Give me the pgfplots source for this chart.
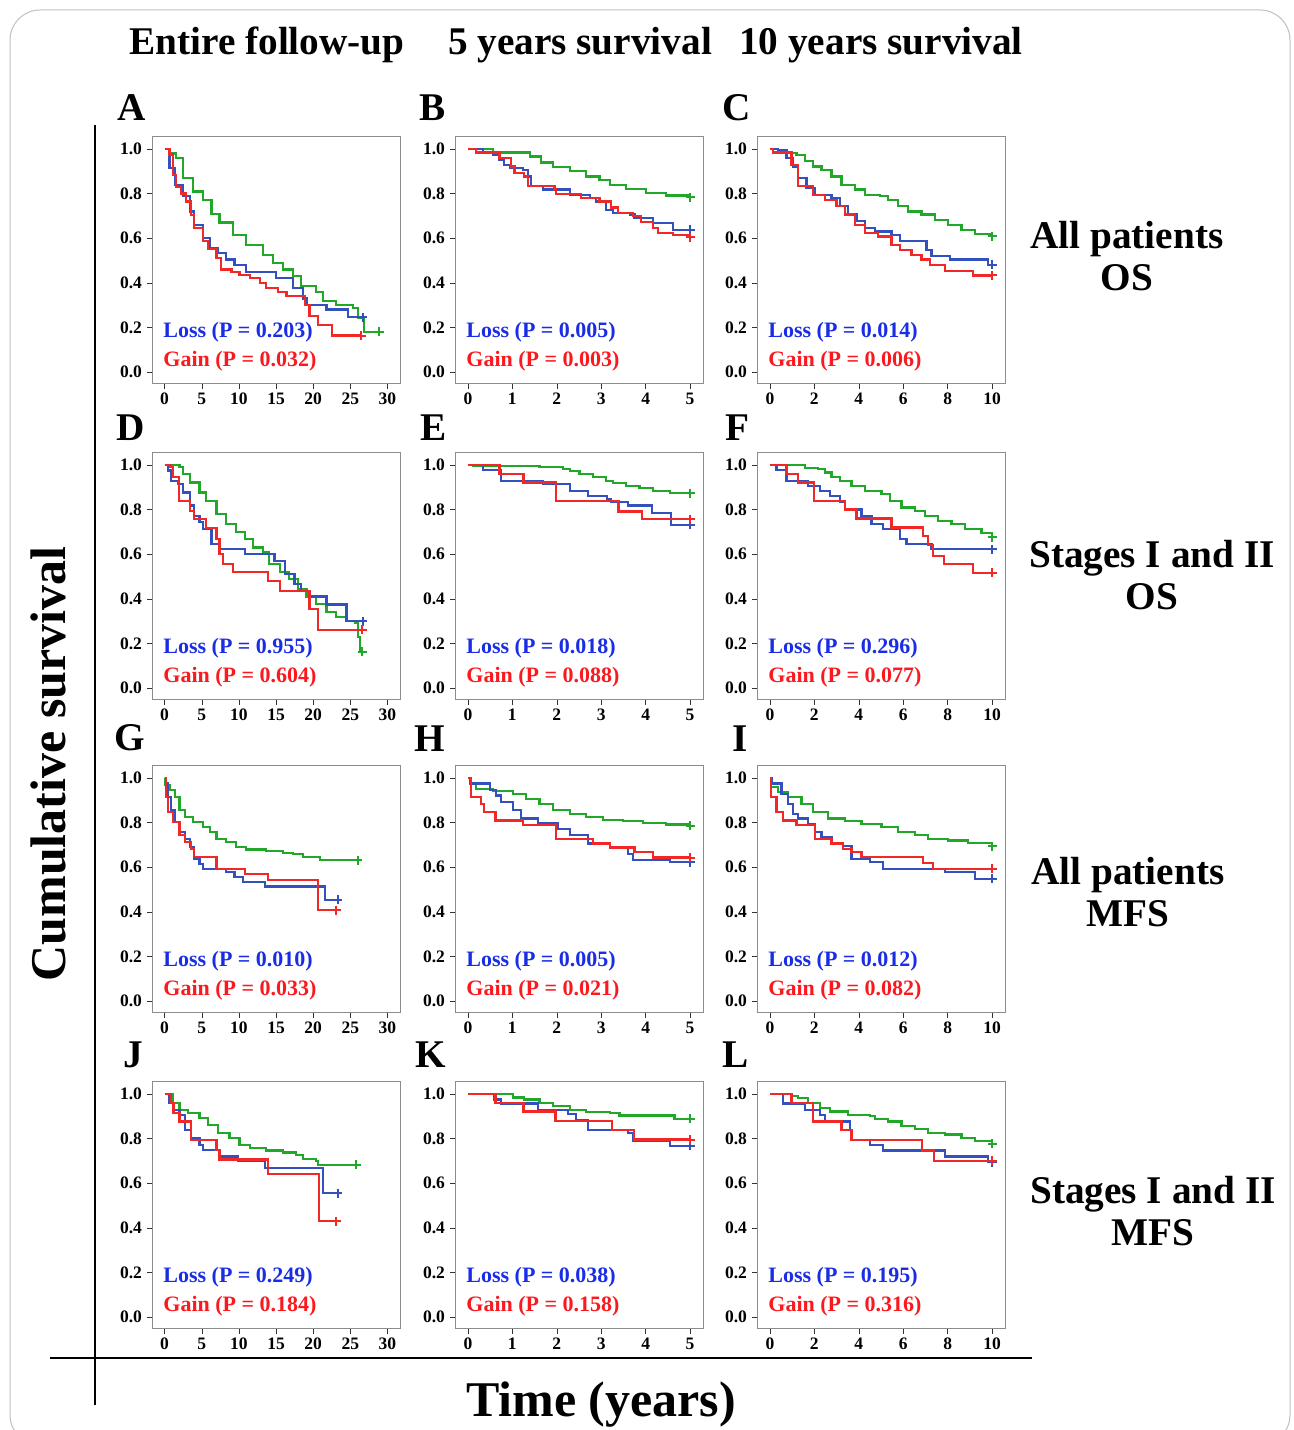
\documentclass[border=0pt]{standalone}
\usepackage{pgfplots}
\pgfplotsset{compat=1.18}
\usepackage{fontspec}
\setmainfont{Liberation Serif}

\definecolor{kmgreen}{RGB}{34,168,40}
\definecolor{kmblue}{RGB}{50,80,190}
\definecolor{kmred}{RGB}{240,40,40}
\definecolor{txblue}{RGB}{25,45,230}
\definecolor{txred}{RGB}{250,25,30}

\pgfplotsset{
  km/.style={scale only axis, width=99.2pt, height=98.8pt, anchor=north west,
    ymin=-0.054, ymax=1.054, ytick={0,0.2,0.4,0.6,0.8,1},
    axis line style={black!45}, tick style={black!80}, tick align=outside,
    xtick pos=left, ytick pos=left, major tick length=2pt,
    /pgf/number format/assume math mode=true,
    y tick label style={/pgf/number format/fixed, /pgf/number format/fixed zerofill, /pgf/number format/precision=1},
    tick label style={font=\bfseries\fontsize{7}{8}\selectfont},
    yticklabel style={xshift=1.5pt}, xticklabel style={yshift=1.8pt}},
  c1/.style={xmin=-1.7, xmax=31.7, xtick={0,5,10,15,20,25,30}},
  c2/.style={xmin=-0.29, xmax=5.29, xtick={0,1,2,3,4,5}},
  c3/.style={xmin=-0.58, xmax=10.58, xtick={0,2,4,6,8,10}},
  gl/.style={const plot, kmgreen, line width=0.9pt, no marks},
  bl/.style={const plot, kmblue, line width=0.9pt, no marks},
  rl/.style={const plot, kmred, line width=0.9pt, no marks},
  ge/.style={only marks, mark=+, kmgreen, mark size=1.8pt, line width=0.8pt},
  be/.style={only marks, mark=+, kmblue, mark size=1.8pt, line width=0.8pt},
  re/.style={only marks, mark=+, kmred, mark size=1.8pt, line width=0.8pt},
}
\newcommand{\pv}[2]{%
  \node[anchor=west, text=txblue, font=\bfseries\fontsize{8.8}{10}\selectfont, inner sep=0pt] at (rel axis cs:0.044,0.208) {Loss (P = #1)};
  \node[anchor=west, text=txred, font=\bfseries\fontsize{8.8}{10}\selectfont, inner sep=0pt] at (rel axis cs:0.044,0.093) {Gain (P = #2)};}

\begin{document}
\begin{tikzpicture}
\useasboundingbox (0,0) rectangle (517.2pt,-572pt);

% ---------- row 1: all patients OS
\begin{axis}[km, c1, at={(152*0.4pt,-137*0.4pt)}]
\addplot[gl] coordinates {(0,1) (0.7,0.98) (1.57,0.96) (2.47,0.87) (3.8,0.81) (5.2,0.77) (6.3,0.71) (7.4,0.67) (9.2,0.615) (11.0,0.57) (13.2,0.526) (14.6,0.49) (15.9,0.46) (17.3,0.43) (18.4,0.384) (20.4,0.36) (21.3,0.317) (23.1,0.30) (25.4,0.287) (26.0,0.242) (26.9,0.18) (28.9,0.18)};
\addplot[bl] coordinates {(0,1) (0.67,0.915) (1.35,0.84) (2.47,0.79) (3.4,0.72) (4.0,0.66) (5.2,0.60) (6.1,0.556) (7.2,0.534) (8.3,0.504) (9.4,0.48) (11.0,0.45) (15.0,0.42) (17.3,0.377) (18.6,0.33) (19.1,0.30) (21.8,0.28) (24.7,0.245) (26.7,0.245)};
\addplot[rl] coordinates {(0,1) (0.67,0.975) (1.1,0.885) (1.5,0.83) (2.2,0.80) (2.9,0.765) (3.6,0.705) (4.0,0.646) (5.2,0.586) (5.8,0.55) (7.0,0.51) (7.6,0.46) (9.0,0.45) (10.1,0.436) (11.5,0.42) (12.8,0.40) (13.7,0.377) (15.3,0.36) (16.4,0.34) (18.9,0.30) (19.5,0.25) (20.7,0.21) (22.5,0.163) (26.5,0.163)};
\addplot[ge] coordinates {(28.9,0.18)};
\addplot[be] coordinates {(26.7,0.245)};
\addplot[re] coordinates {(26.5,0.163)};
\pv{0.203}{0.032}
\end{axis}

\begin{axis}[km, c2, at={(455*0.4pt,-137*0.4pt)}]
\addplot[gl] coordinates {(0,1) (0.56,0.985) (1.39,0.967) (1.65,0.94) (1.91,0.92) (2.29,0.90) (2.66,0.877) (2.96,0.862) (3.19,0.84) (3.56,0.822) (4.01,0.803) (4.46,0.792) (5.0,0.783)};
\addplot[bl] coordinates {(0,1) (0.34,0.985) (0.56,0.975) (0.71,0.952) (0.82,0.93) (0.94,0.915) (1.24,0.907) (1.35,0.877) (1.42,0.833) (1.69,0.818) (2.29,0.795) (2.74,0.78) (2.89,0.765) (3.11,0.728) (3.26,0.713) (3.64,0.706) (3.75,0.69) (4.16,0.668) (4.61,0.638) (5.0,0.638)};
\addplot[rl] coordinates {(0,1) (0.19,0.985) (0.71,0.96) (0.97,0.922) (1.05,0.892) (1.27,0.877) (1.35,0.833) (1.95,0.818) (1.99,0.798) (2.55,0.78) (2.96,0.765) (3.22,0.738) (3.37,0.713) (3.71,0.698) (3.9,0.672) (4.16,0.646) (4.27,0.623) (4.61,0.616) (4.95,0.604) (5.0,0.604)};
\addplot[ge] coordinates {(5.0,0.783)};
\addplot[be] coordinates {(5.0,0.638)};
\addplot[re] coordinates {(5.0,0.604)};
\pv{0.005}{0.003}
\end{axis}

\begin{axis}[km, c3, at={(757*0.4pt,-137*0.4pt)}]
\addplot[gl] coordinates {(0,1) (0.37,0.997) (0.75,0.982) (1.2,0.972) (1.57,0.945) (1.95,0.922) (2.32,0.907) (2.77,0.877) (3.22,0.84) (3.82,0.818) (4.27,0.795) (4.95,0.788) (5.32,0.773) (5.77,0.743) (6.22,0.72) (6.82,0.706) (7.42,0.683) (8.02,0.66) (8.62,0.638) (9.22,0.62) (10,0.608)};
\addplot[bl] coordinates {(0,1) (0.37,0.997) (0.75,0.96) (1.05,0.922) (1.27,0.87) (1.65,0.825) (2.02,0.795) (2.77,0.78) (3.15,0.743) (3.52,0.706) (3.9,0.676) (4.27,0.646) (4.72,0.63) (5.47,0.616) (5.85,0.586) (7.05,0.548) (7.27,0.519) (8.1,0.504) (9.82,0.481) (10,0.481)};
\addplot[rl] coordinates {(0,1) (0.15,0.985) (0.97,0.93) (1.27,0.833) (1.95,0.795) (2.47,0.773) (3.0,0.743) (3.37,0.706) (3.82,0.66) (4.27,0.623) (4.87,0.608) (5.47,0.571) (5.85,0.548) (6.37,0.526) (6.82,0.504) (7.2,0.481) (7.87,0.454) (9.15,0.433) (10,0.433)};
\addplot[ge] coordinates {(10,0.608)};
\addplot[be] coordinates {(10,0.481)};
\addplot[re] coordinates {(10,0.433)};
\pv{0.014}{0.006}
\end{axis}

% ---------- row 2: stages I and II OS
\begin{axis}[km, c1, at={(152*0.4pt,-453*0.4pt)}]
\addplot[gl] coordinates {(0,1) (2.0,0.99) (2.47,0.96) (3.37,0.922) (4.7,0.877) (5.6,0.84) (7.0,0.78) (8.3,0.735) (9.65,0.698) (10.8,0.668) (11.9,0.63) (13.2,0.608) (14.1,0.556) (15.5,0.519) (16.8,0.489) (18.0,0.444) (19.1,0.407) (20.4,0.377) (21.8,0.34) (23.1,0.317) (24.5,0.30) (25.6,0.294) (26.0,0.227) (26.3,0.163) (26.6,0.163)};
\addplot[bl] coordinates {(0,1) (0.45,0.975) (0.9,0.93) (1.8,0.915) (2.47,0.877) (3.37,0.818) (4.0,0.773) (4.7,0.743) (5.2,0.713) (6.3,0.646) (7.4,0.623) (10.8,0.60) (14.8,0.571) (16.2,0.511) (17.5,0.466) (18.4,0.436) (19.5,0.41) (21.8,0.374) (24.5,0.30) (26.7,0.30)};
\addplot[rl] coordinates {(0,1) (0.8,0.99) (1.1,0.945) (1.9,0.84) (3.37,0.795) (4.0,0.758) (5.6,0.718) (7.0,0.668) (7.4,0.60) (7.9,0.556) (9.2,0.519) (13.9,0.481) (15.5,0.436) (19.5,0.354) (20.7,0.26) (26.6,0.26)};
\addplot[ge] coordinates {(26.6,0.163)};
\addplot[be] coordinates {(26.7,0.30)};
\addplot[re] coordinates {(26.6,0.26)};
\pv{0.955}{0.604}
\end{axis}

\begin{axis}[km, c2, at={(455*0.4pt,-453*0.4pt)}]
\addplot[gl] coordinates {(0,1) (0.11,0.995) (1.61,0.99) (2.14,0.982) (2.29,0.972) (2.51,0.96) (2.81,0.945) (3.11,0.93) (3.26,0.918) (3.56,0.907) (3.86,0.897) (4.16,0.885) (4.54,0.874) (5.0,0.874)};
\addplot[bl] coordinates {(0,1) (0.34,0.977) (0.75,0.93) (1.69,0.915) (2.29,0.885) (2.7,0.862) (3.13,0.847) (3.22,0.833) (3.6,0.818) (4.15,0.785) (4.57,0.732) (5.0,0.732)};
\addplot[rl] coordinates {(0,1) (0.71,0.96) (1.25,0.922) (1.99,0.84) (3.39,0.792) (3.92,0.757) (5.0,0.757)};
\addplot[ge] coordinates {(5.0,0.874)};
\addplot[be] coordinates {(5.0,0.732)};
\addplot[re] coordinates {(5.0,0.757)};
\pv{0.018}{0.088}
\end{axis}

\begin{axis}[km, c3, at={(757*0.4pt,-453*0.4pt)}]
\addplot[gl] coordinates {(0,1) (1.57,0.988) (2.17,0.982) (2.47,0.967) (2.77,0.948) (3.15,0.927) (3.67,0.907) (4.27,0.885) (5.02,0.87) (5.4,0.84) (5.92,0.81) (6.52,0.795) (6.97,0.773) (7.57,0.75) (8.17,0.735) (8.77,0.713) (9.52,0.694) (10,0.676)};
\addplot[bl] coordinates {(0,1) (0.3,0.977) (0.75,0.93) (1.72,0.907) (2.25,0.885) (2.7,0.862) (3.15,0.833) (3.37,0.80) (4.12,0.77) (4.57,0.735) (5.1,0.713) (5.85,0.668) (6.15,0.646) (7.27,0.623) (10,0.623)};
\addplot[rl] coordinates {(0,1) (0.75,0.96) (1.27,0.922) (1.99,0.84) (3.37,0.80) (3.9,0.76) (5.47,0.72) (6.9,0.68) (7.12,0.64) (7.35,0.593) (7.84,0.556) (9.15,0.516) (10,0.516)};
\addplot[ge] coordinates {(10,0.676)};
\addplot[be] coordinates {(10,0.623)};
\addplot[re] coordinates {(10,0.516)};
\pv{0.296}{0.077}
\end{axis}

% ---------- row 3: all patients MFS
\begin{axis}[km, c1, at={(152*0.4pt,-766*0.4pt)}]
\addplot[gl] coordinates {(0,1) (0.05,0.97) (0.67,0.945) (1.35,0.915) (2.0,0.855) (2.7,0.825) (3.8,0.803) (5.2,0.78) (6.1,0.758) (7.0,0.728) (8.3,0.713) (9.65,0.69) (11.0,0.679) (13.7,0.673) (15.9,0.665) (17.3,0.658) (18.6,0.646) (20.9,0.631) (26.0,0.631)};
\addplot[bl] coordinates {(0,1) (0.22,0.975) (0.45,0.915) (0.9,0.855) (1.35,0.803) (2.0,0.758) (2.7,0.728) (3.37,0.69) (4.0,0.638) (4.7,0.616) (5.2,0.593) (8.3,0.578) (9.4,0.556) (10.55,0.534) (13.5,0.514) (21.6,0.454) (23.3,0.454)};
\addplot[rl] coordinates {(0,1) (0.15,0.915) (0.45,0.848) (1.1,0.803) (2.0,0.743) (2.7,0.713) (3.6,0.683) (4.0,0.646) (7.0,0.593) (10.8,0.568) (13.9,0.541) (20.7,0.407) (23.1,0.407)};
\addplot[ge] coordinates {(26.0,0.631)};
\addplot[be] coordinates {(23.3,0.454)};
\addplot[re] coordinates {(23.1,0.407)};
\pv{0.010}{0.033}
\end{axis}

\begin{axis}[km, c2, at={(455*0.4pt,-766*0.4pt)}]
\addplot[gl] coordinates {(0,1) (0.04,0.975) (0.19,0.952) (0.56,0.942) (1.01,0.927) (1.31,0.907) (1.61,0.885) (1.91,0.855) (2.29,0.84) (2.66,0.825) (3.04,0.813) (3.49,0.807) (3.94,0.798) (4.46,0.792) (5.0,0.785)};
\addplot[bl] coordinates {(0,1) (0.04,0.975) (0.49,0.945) (0.64,0.922) (0.75,0.892) (1.01,0.855) (1.2,0.818) (1.57,0.798) (2.02,0.773) (2.29,0.743) (2.7,0.706) (3.19,0.69) (3.6,0.66) (3.71,0.634) (4.54,0.623) (5.0,0.623)};
\addplot[rl] coordinates {(0,1) (0.07,0.915) (0.3,0.885) (0.37,0.848) (0.62,0.81) (1.24,0.79) (1.99,0.728) (2.81,0.706) (3.19,0.688) (3.75,0.668) (4.16,0.643) (5.0,0.643)};
\addplot[ge] coordinates {(5.0,0.785)};
\addplot[be] coordinates {(5.0,0.623)};
\addplot[re] coordinates {(5.0,0.643)};
\pv{0.005}{0.021}
\end{axis}

\begin{axis}[km, c3, at={(757*0.4pt,-766*0.4pt)}]
\addplot[gl] coordinates {(0,1) (0.05,0.96) (0.37,0.937) (0.82,0.915) (1.42,0.885) (1.95,0.848) (2.62,0.818) (3.37,0.807) (4.12,0.795) (5.02,0.78) (5.77,0.758) (6.52,0.743) (7.12,0.728) (8.02,0.72) (8.92,0.708) (10,0.694)};
\addplot[bl] coordinates {(0,1) (0.07,0.975) (0.52,0.93) (0.82,0.885) (1.05,0.84) (1.27,0.818) (1.72,0.795) (2.02,0.758) (2.32,0.735) (2.77,0.706) (3.3,0.694) (3.67,0.638) (4.5,0.623) (5.1,0.593) (7.87,0.578) (9.22,0.548) (10,0.548)};
\addplot[rl] coordinates {(0,1) (0.05,0.915) (0.3,0.848) (0.6,0.81) (1.2,0.788) (2.02,0.728) (2.77,0.706) (3.3,0.683) (3.67,0.668) (4.12,0.646) (6.9,0.619) (7.35,0.593) (10,0.593)};
\addplot[ge] coordinates {(10,0.694)};
\addplot[be] coordinates {(10,0.548)};
\addplot[re] coordinates {(10,0.593)};
\pv{0.012}{0.082}
\end{axis}

% ---------- row 4: stages I and II MFS
\begin{axis}[km, c1, at={(152*0.4pt,-1082*0.4pt)}]
\addplot[gl] coordinates {(0,1) (1.1,0.96) (2.0,0.93) (3.1,0.915) (4.7,0.892) (5.8,0.862) (7.2,0.825) (8.75,0.803) (10.1,0.773) (11.45,0.758) (13.7,0.747) (15.9,0.738) (17.7,0.728) (18.6,0.709) (20.4,0.698) (20.7,0.683) (25.8,0.683)};
\addplot[bl] coordinates {(0,1) (0.67,0.96) (1.1,0.93) (2.0,0.907) (2.7,0.84) (3.6,0.803) (4.7,0.773) (5.2,0.75) (7.4,0.72) (9.9,0.698) (13.5,0.668) (21.3,0.556) (23.3,0.556)};
\addplot[rl] coordinates {(0,1) (0.9,0.96) (1.2,0.915) (2.0,0.877) (3.6,0.795) (7.0,0.75) (7.4,0.706) (13.9,0.641) (20.8,0.429) (23.1,0.429)};
\addplot[ge] coordinates {(25.8,0.683)};
\addplot[be] coordinates {(23.3,0.556)};
\addplot[re] coordinates {(23.1,0.429)};
\pv{0.249}{0.184}
\end{axis}

\begin{axis}[km, c2, at={(455*0.4pt,-1082*0.4pt)}]
\addplot[gl] coordinates {(0,1) (1.01,0.985) (1.27,0.975) (1.61,0.96) (1.91,0.945) (2.29,0.93) (2.66,0.921) (3.19,0.915) (3.41,0.904) (4.65,0.889) (5.0,0.889)};
\addplot[bl] coordinates {(0,1) (0.6,0.975) (0.75,0.957) (1.57,0.93) (2.25,0.91) (2.44,0.885) (2.7,0.84) (3.6,0.825) (3.71,0.792) (4.54,0.768) (5.0,0.768)};
\addplot[rl] coordinates {(0,1) (0.62,0.96) (1.25,0.922) (1.97,0.88) (3.25,0.84) (3.73,0.796) (5.0,0.796)};
\addplot[ge] coordinates {(5.0,0.889)};
\addplot[be] coordinates {(5.0,0.768)};
\addplot[re] coordinates {(5.0,0.796)};
\pv{0.038}{0.158}
\end{axis}

\begin{axis}[km, c3, at={(757*0.4pt,-1082*0.4pt)}]
\addplot[gl] coordinates {(0,1) (0.97,0.99) (1.27,0.982) (1.72,0.96) (2.25,0.937) (2.7,0.922) (3.52,0.907) (4.5,0.9) (4.72,0.889) (5.32,0.877) (5.92,0.855) (6.52,0.843) (7.12,0.825) (7.87,0.818) (8.62,0.803) (9.22,0.788) (10,0.777)};
\addplot[bl] coordinates {(0,1) (0.6,0.957) (1.57,0.93) (2.25,0.907) (2.47,0.877) (3.6,0.84) (3.67,0.795) (4.5,0.773) (5.1,0.747) (7.87,0.72) (9.82,0.694) (10,0.694)};
\addplot[rl] coordinates {(0,1) (0.97,0.96) (1.95,0.877) (3.22,0.84) (3.67,0.795) (6.85,0.747) (7.39,0.701) (10,0.701)};
\addplot[ge] coordinates {(10,0.777)};
\addplot[be] coordinates {(10,0.694)};
\addplot[re] coordinates {(10,0.701)};
\pv{0.195}{0.316}
\end{axis}

% ---------- annotations (pixel grid of the reference)
\begin{scope}[x=0.4pt, y=-0.4pt]
\draw[black!25, rounded corners=12pt] (10,10) rectangle (1290,1445);
\draw[black, line width=0.8pt] (95,125) -- (95,1405);
\draw[black, line width=0.8pt] (50,1358) -- (1032,1358);
\begin{scope}[every node/.style={font=\bfseries\fontsize{15.7}{16.8}\selectfont, inner sep=0pt}]
\node at (267,45) {Entire follow-up};
\node at (580,45) {5 years survival};
\node at (881,45) {10 years survival};
\node at (132,108) {A}; \node at (433,108) {B}; \node at (737,108) {C};
\node at (131,428) {D}; \node at (434,428) {E}; \node at (737,428) {F};
\node at (130,738) {G}; \node at (430,739) {H}; \node at (740,739) {I};
\node at (133,1055) {J}; \node at (431,1055) {K}; \node at (736,1055) {L};
\node[align=center] at (1127,256) {All patients\\OS};
\node[align=center] at (1152,575) {Stages I and II\\OS};
\node[align=center] at (1128,892) {All patients\\MFS};
\node[align=center] at (1153,1211) {Stages I and II\\MFS};
\end{scope}
\node[rotate=90, font=\bfseries\fontsize{20}{22}\selectfont, inner sep=0pt] at (48,764) {Cumulative survival};
\node[font=\bfseries\fontsize{20}{22}\selectfont, inner sep=0pt] at (601,1405) {Time (years)};
\end{scope}
\end{tikzpicture}
\end{document}
